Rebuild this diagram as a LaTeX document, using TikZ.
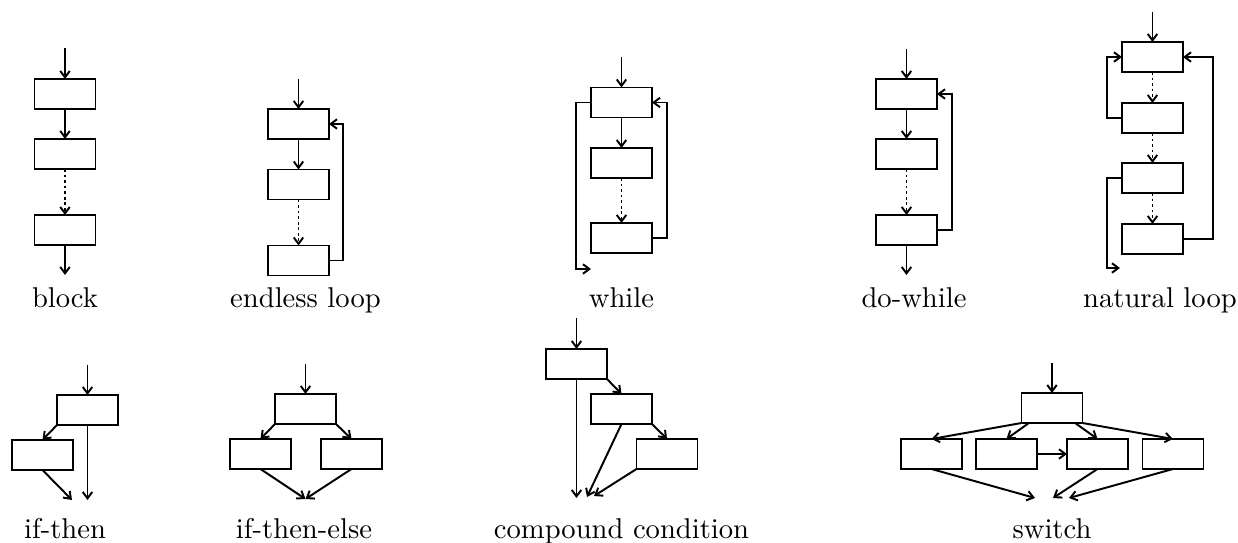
\documentclass[tikz,border=0pt]{standalone}
\usetikzlibrary{arrows.meta}
\begin{document}
\begin{tikzpicture}[x=0.36pt, y=-0.36pt,
  line width=0.7pt,
  blk/.style={draw, rectangle, minimum width=61*0.36pt, minimum height=30*0.36pt, inner sep=0pt, outer sep=0pt},
  flow/.style={-{Straight Barb[length=2.3pt, width=3.4pt]}},
  dots/.style={flow, dash pattern=on 1pt off 1pt},
  caption/.style={anchor=base, inner sep=0pt, font=\fontsize{10.3}{12}\selectfont}]
\useasboundingbox (0,0) rectangle (1238,543);

% ---------- block ----------
\node[blk] (b1) at (65,94) {};
\node[blk] (b2) at (65,154) {};
\node[blk] (b3) at (65,230) {};
\coordinate (bin) at (65,48);
\coordinate (bout) at (65,275);
\draw[flow] (bin) -- (b1.north);
\draw[flow] (b1.south) -- (b2.north);
\draw[dots] (b2.south) -- (b3.north);
\draw[flow] (b3.south) -- (bout);
\node[caption] (lblock) at (65,307) {block};

% ---------- endless loop ----------
\node[blk] (e1) at (298.5,124) {};
\node[blk] (e2) at (298.5,184.5) {};
\node[blk] (e3) at (298.5,260.5) {};
\coordinate (ein) at (298.5,79);
\draw[flow] (ein) -- (e1.north);
\draw[flow] (e1.south) -- (e2.north);
\draw[dots] (e2.south) -- (e3.north);
\draw[flow] (e3.east) -- ++(14,0) |- (e1.east);
\node[caption] (lendless) at (305.5,307) {endless loop};

% ---------- while ----------
\node[blk] (w1) at (621.5,102.5) {};
\node[blk] (w2) at (621.5,163) {};
\node[blk] (w3) at (621.5,238) {};
\coordinate (win) at (621.5,57);
\coordinate (wout) at (591,269);
\draw[flow] (win) -- (w1.north);
\draw[flow] (w1.south) -- (w2.north);
\draw[dots] (w2.south) -- (w3.north);
\draw[flow] (w3.east) -- ++(15,0) |- (w1.east);
\draw[flow] (w1.west) -- ++(-15,0) |- (wout);
\node[caption] (lwhile) at (621.5,307) {while};

% ---------- do-while ----------
\node[blk] (d1) at (906.5,94) {};
\node[blk] (d2) at (906.5,154) {};
\node[blk] (d3) at (906.5,230) {};
\coordinate (din) at (906.5,49);
\coordinate (dout) at (906.5,275);
\draw[flow] (din) -- (d1.north);
\draw[flow] (d1.south) -- (d2.north);
\draw[dots] (d2.south) -- (d3.north);
\draw[flow] (d3.south) -- (dout);
\draw[flow] (d3.east) -- ++(15,0) |- (d1.east);
\node[caption] (ldowhile) at (914,307) {do-while};

% ---------- natural loop ----------
\node[blk] (n1) at (1152.5,57) {};
\node[blk] (n2) at (1152.5,118) {};
\node[blk] (n3) at (1152.5,178) {};
\node[blk] (n4) at (1152.5,239) {};
\coordinate (nin) at (1152.5,12);
\coordinate (nout) at (1120,268);
\draw[flow] (nin) -- (n1.north);
\draw[dots] (n1.south) -- (n2.north);
\draw[dots] (n2.south) -- (n3.north);
\draw[dots] (n3.south) -- (n4.north);
\draw[flow] (n2.west) -- ++(-15,0) |- (n1.west);
\draw[flow] (n4.east) -- ++(30,0) |- (n1.east);
\draw[flow] (n3.west) -- ++(-15,0) |- (nout);
\node[caption] (lnatural) at (1160,307) {natural loop};

% ---------- if-then ----------
\node[blk] (t1) at (87.5,410) {};
\node[blk] (t2) at (42.5,455) {};
\coordinate (tin) at (87.5,365);
\coordinate (tj1) at (87.5,500);
\coordinate (tj2) at (72,500);
\draw[flow] (tin) -- (t1.north);
\draw[flow] (t1.south west) -- (t2.north);
\draw[flow] (t1.south) -- (tj1);
\draw[flow] (t2.south) -- (tj2);
\node[caption] (lifthen) at (65,538) {if-then};

% ---------- if-then-else ----------
\node[blk] (i1) at (305.5,409) {};
\node[blk] (i2) at (260.5,454) {};
\node[blk] (i3) at (351.5,454) {};
\coordinate (iin) at (305.5,364);
\coordinate (ij) at (305.5,499);
\draw[flow] (iin) -- (i1.north);
\draw[flow] (i1.south west) -- (i2.north);
\draw[flow] (i1.south east) -- (i3.north);
\draw[flow] (i2.south) -- (ij);
\draw[flow] (i3.south) -- (ij);
\node[caption] (lifelse) at (304,538) {if-then-else};

% ---------- compound condition ----------
\node[blk] (c1) at (576.5,364) {};
\node[blk] (c2) at (621.5,409) {};
\node[blk] (c3) at (667,454) {};
\coordinate (cin) at (576.5,318);
\coordinate (cj1) at (576.5,498);
\coordinate (cj2) at (587,497);
\coordinate (cj3) at (594,496);
\draw[flow] (cin) -- (c1.north);
\draw[flow] (c1.south east) -- (c2.north);
\draw[flow] (c2.south east) -- (c3.north);
\draw[flow] (c1.south) -- (cj1);
\draw[flow] (c2.south) -- (cj2);
\draw[flow] (c3.south west) -- (cj3);
\node[caption] (lcompound) at (621.5,538) {compound condition};

% ---------- switch ----------
\node[blk] (s0) at (1052,408) {};
\node[blk] (sA) at (931.5,454) {};
\node[blk] (sB) at (1006.5,454) {};
\node[blk] (sC) at (1097.5,454) {};
\node[blk] (sD) at (1173,454) {};
\coordinate (sin) at (1052,363);
\coordinate (sj1) at (1035,498);
\coordinate (sj2) at (1053,498);
\coordinate (sj3) at (1069,498);
\draw[flow] (sin) -- (s0.north);
\draw[flow] (s0.south west) -- (sA.north);
\draw[flow] (s0.213) -- (sB.north);
\draw[flow] (s0.327) -- (sC.north);
\draw[flow] (s0.south east) -- (sD.north);
\draw[flow] (sB.east) -- (sC.west);
\draw[flow] (sA.south) -- (sj1);
\draw[flow] (sC.south) -- (sj2);
\draw[flow] (sD.south) -- (sj3);
\node[caption] (lswitch) at (1052,538) {switch};
\end{tikzpicture}
\end{document}
